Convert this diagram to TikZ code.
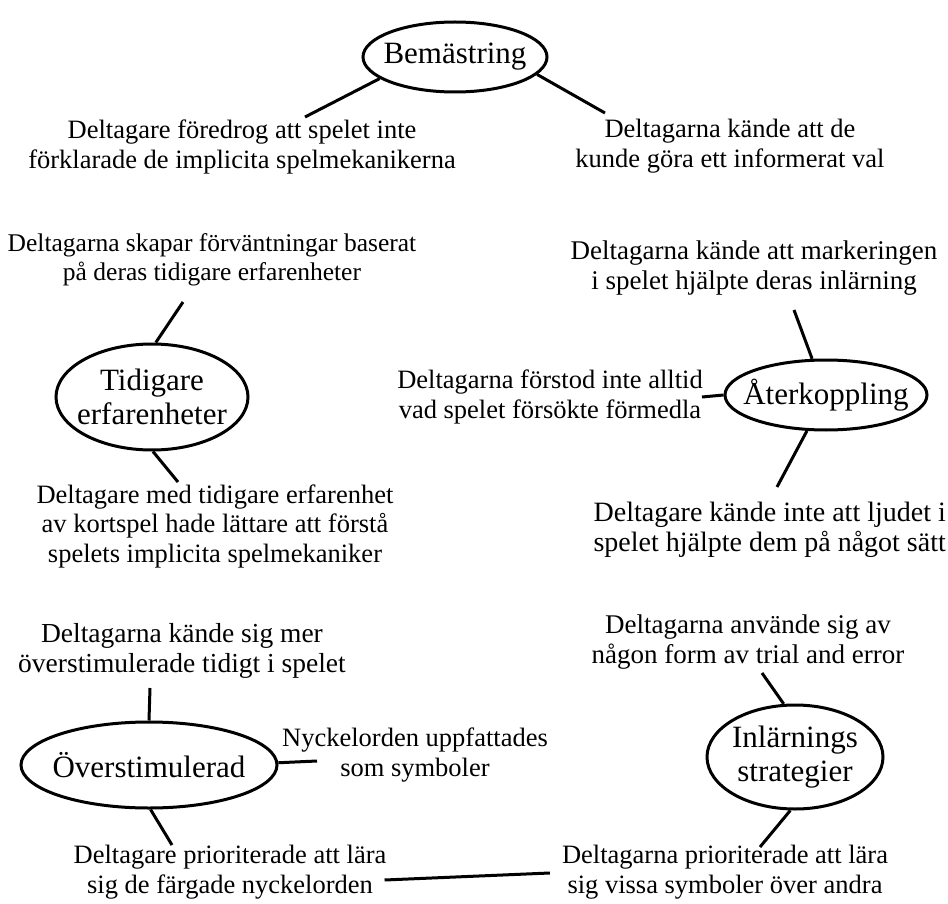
\documentclass[tikz,border=0pt]{standalone}
\usepackage{fontspec}
\setmainfont{Liberation Serif}
\usetikzlibrary{shapes.geometric,calc}
\begin{document}
\begin{tikzpicture}[x=1pt,y=-1pt,
  txt/.style={align=center, inner sep=0pt, font=\fontsize{26.5}{29.5}\selectfont},
  ell/.style={ellipse, draw, line width=3pt, inner sep=0pt, align=center, font=\fontsize{31}{34}\selectfont},
  con/.style={line width=3pt}]
\useasboundingbox[fill=white] (0,0) rectangle (948,904);
% ellipses
\node[ell, minimum width=184, minimum height=70] (bem) at (455,57) {\makebox[0pt]{Bemästring}};
\node[ell, minimum width=192, minimum height=106] (tid) at (152,397) {\makebox[0pt]{Tidigare}\\\makebox[0pt]{erfarenheter}};
\node[ell, minimum width=202, minimum height=70] (ater) at (826,395) {\makebox[0pt]{Återkoppling}};
\node[ell, minimum width=256, minimum height=86] (over) at (149,765) {\makebox[0pt]{Överstimulerad}};
\node[ell, minimum width=176, minimum height=104] (inl) at (795,757) {\makebox[0pt]{Inlärnings}\\\makebox[0pt]{strategier}};
% texts
\node[txt] (a) at (242,147) {Deltagare föredrog att spelet inte\\förklarade de implicita spelmekanikerna};
\node[txt] (b) at (730,146) {Deltagarna kände att de\\kunde göra ett informerat val};
\node[txt, font=\fontsize{25.5}{29.5}\selectfont] (c) at (212,260) {Deltagarna skapar förväntningar baserat\\på deras tidigare erfarenheter};
\node[txt] (e) at (215,526) {Deltagare med tidigare erfarenhet\\av kortspel hade lättare att förstå\\spelets implicita spelmekaniker};
\node[txt, font=\fontsize{27}{29.5}\selectfont] (f) at (754,268) {Deltagarna kände att markeringen\\i spelet hjälpte deras inlärning};
\node[txt] (g) at (550,397) {Deltagarna förstod inte alltid\\vad spelet försökte förmedla};
\node[txt, font=\fontsize{28}{30}\selectfont, align=right, anchor=east] (h) at (946,530) {Deltagare kände inte att ljudet i\\spelet hjälpte dem på något sätt};
\node[txt, font=\fontsize{27.5}{30}\selectfont] (i) at (182,651) {Deltagarna kände sig mer\\överstimulerade tidigt i spelet};
\node[txt] (k) at (415,755) {Nyckelorden uppfattades\\som symboler};
\node[txt] (l) at (230,872) {Deltagare prioriterade att lära\\sig de färgade nyckelorden};
\node[txt] (m) at (725,872) {Deltagarna prioriterade att lära\\sig vissa symboler över andra};
\node[txt, font=\fontsize{27}{29.5}\selectfont] (o) at (748,642) {Deltagarna använde sig av\\någon form av trial and error};
% free ends
\coordinate (bemL) at (305,117);
\coordinate (bemR) at (605,113);
\coordinate (tidT) at (183,302);
\coordinate (tidB) at (178,482);
\coordinate (aterT) at (794,310);
\coordinate (aterL) at (702,397);
\coordinate (aterB) at (777,487);
\coordinate (overT) at (150,688);
\coordinate (overR) at (317,761);
\coordinate (overB) at (172,845);
\coordinate (inlT) at (762,673);
\coordinate (inlB) at (760,847);
% connectors
\draw[con] (bem.-164.4) -- (bemL);
\draw[con] (bem.-12.7) -- (bemR);
\draw[con] (tid.86) -- (tidT);
\draw[con] (tid.-89) -- (tidB);
\draw[con] (ater.111.8) -- (aterT);
\draw[con] (ater.180) -- (aterL);
\draw[con] (ater.-118.4) -- (aterB);
\draw[con] (over.90) -- (overT);
\draw[con] (over.1) -- (overR);
\draw[con] (over.-88) -- (overB);
\draw[con] (inl.102) -- (inlT);
\draw[con] (inl.-95) -- (inlB);
\draw[con] ($(l.east)+(-2,8)$) -- ($(m.west)+(-12,1)$);
\end{tikzpicture}
\end{document}
